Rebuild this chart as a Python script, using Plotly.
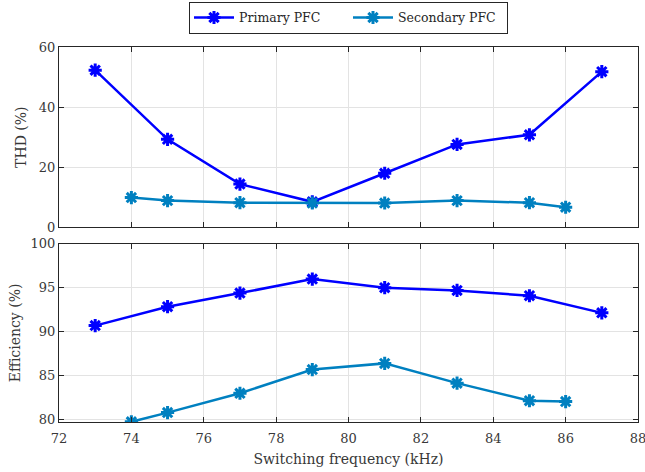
import plotly.graph_objects as go
from plotly.subplots import make_subplots

# Switching frequency sweep (kHz)
freq_primary = [73, 75, 77, 79, 81, 83, 85, 87]
freq_secondary = [74, 75, 77, 79, 81, 83, 85, 86]

# Total harmonic distortion (%)
thd_primary = [52.3, 29.3, 14.4, 8.5, 18.0, 27.6, 30.8, 51.8]
thd_secondary = [9.9, 8.9, 8.2, 8.1, 8.1, 8.9, 8.2, 6.7]

# Efficiency (%)
eff_primary = [90.7, 92.85, 94.4, 96.0, 95.02, 94.7, 94.1, 92.15]
eff_secondary = [79.75, 80.8, 83.0, 85.7, 86.4, 84.15, 82.15, 82.05]

x_ticks = [72, 74, 76, 78, 80, 82, 84, 86, 88]
thd_ticks = [0, 20, 40, 60]
eff_ticks = [80, 85, 90, 95, 100]

c_primary = "#0000ff"
c_secondary = "#0080c0"
font_family = "DejaVu Serif"
text_color = "#383838"

fig = make_subplots(rows=2, cols=1, shared_xaxes=False, vertical_spacing=0.04)

def add_series(x, y, color, name, row, show):
    fig.add_trace(go.Scatter(
        x=x, y=y, mode="lines+markers", name=name,
        line=dict(color=color, width=2.5),
        marker=dict(symbol="asterisk-open", size=11,
                    line=dict(color=color, width=3)),
        showlegend=show, legendgroup=name,
    ), row=row, col=1)

add_series(freq_primary, thd_primary, c_primary, "Primary PFC", 1, True)
add_series(freq_secondary, thd_secondary, c_secondary, "Secondary PFC", 1, True)
add_series(freq_primary, eff_primary, c_primary, "Primary PFC", 2, False)
add_series(freq_secondary, eff_secondary, c_secondary, "Secondary PFC", 2, False)

axis_common = dict(
    showline=True, linecolor="#262626", linewidth=1, mirror="ticks",
    ticks="inside", ticklen=5, tickcolor="#262626",
    showgrid=True, gridcolor="#e3e3e3", gridwidth=1,
    zeroline=False, automargin=False, ticklabeloverflow="allow",
    tickfont=dict(family=font_family, size=13, color=text_color),
)
title_font = dict(family=font_family, size=14, color=text_color)

fig.update_xaxes(axis_common, range=[72, 88], tickvals=x_ticks, ticklabelstandoff=4)
fig.update_xaxes(showticklabels=False, row=1, col=1)
fig.update_xaxes(title=dict(text="Switching frequency (kHz)", standoff=9,
                            font=title_font), row=2, col=1)

fig.update_yaxes(axis_common)
fig.update_yaxes(range=[0, 60], tickvals=thd_ticks, domain=[0.519, 1.0],
                 title=dict(text="THD (%)", standoff=8, font=title_font),
                 row=1, col=1)
fig.update_yaxes(range=[79.73, 100], tickvals=eff_ticks, domain=[0.0, 0.475],
                 title=dict(text="Efficiency (%)", standoff=6, font=title_font),
                 row=2, col=1)

fig.update_layout(
    width=645, height=472,
    margin=dict(l=59, r=7, t=47, b=50, autoexpand=False),
    plot_bgcolor="white", paper_bgcolor="white",
    font=dict(family=font_family, color="#262626"),
    legend=dict(
        orientation="h", x=0.5, xanchor="center", y=1.035, yanchor="bottom",
        bordercolor="#262626", borderwidth=1, bgcolor="white",
        font=dict(family=font_family, size=12.5, color="#262626"),
        itemwidth=40, entrywidthmode="pixels", entrywidth=104,
    ),
)

fig.write_html("out.html")
